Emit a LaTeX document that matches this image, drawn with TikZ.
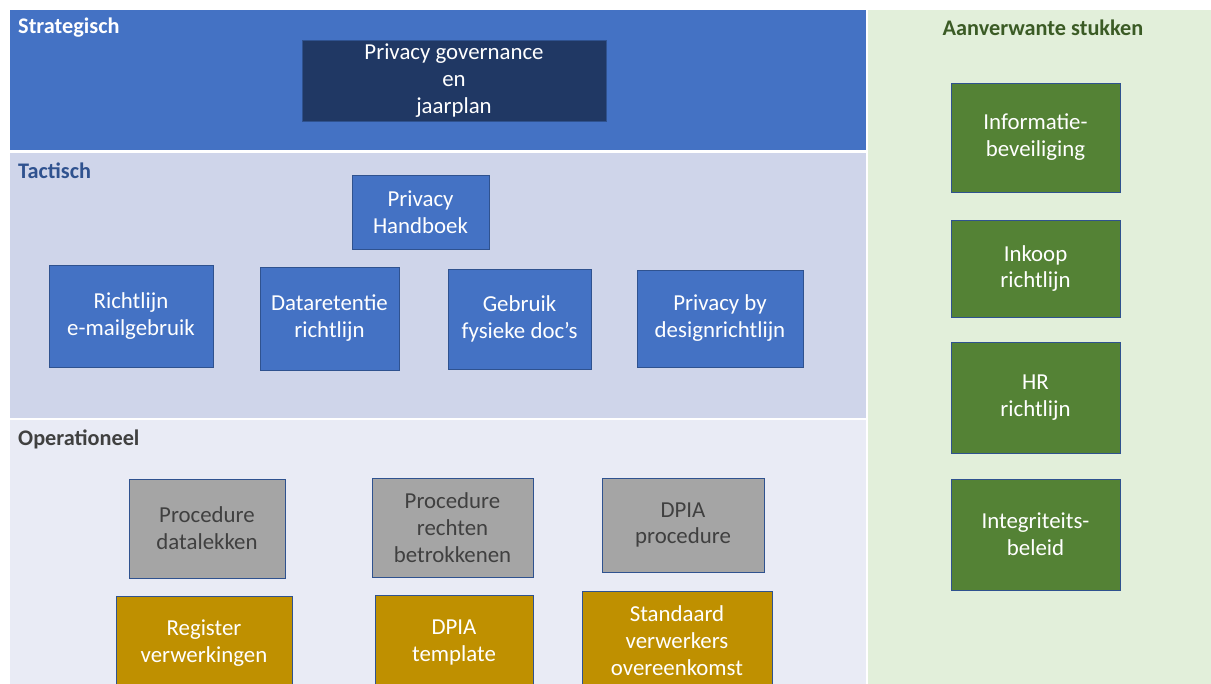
\documentclass[tikz,border=0pt]{standalone}
\usepackage{fontspec}
\setmainfont{Carlito}
\usepackage{xcolor}
\usetikzlibrary{positioning}
\definecolor{stratband}{HTML}{4472C4}
\definecolor{tactband}{HTML}{CFD5EA}
\definecolor{operband}{HTML}{E9EBF5}
\definecolor{relband}{HTML}{E2EFDA}
\definecolor{govfill}{HTML}{203864}
\definecolor{edgeblue}{HTML}{2F528F}
\definecolor{procgray}{HTML}{A5A5A5}
\definecolor{tmplgold}{HTML}{BF9000}
\definecolor{relgreen}{HTML}{548235}
\tikzset{
  lvl/.style={
    anchor=west,
    inner sep=0pt,
    font=\fontsize{19}{22}\selectfont\bfseries
  },
  doc/.style={
    draw=edgeblue,
    line width=0.8pt,
    align=center,
    inner sep=2pt,
    font=\fontsize{19.5}{23}\selectfont,
    text=white
  },
  strat/.style={doc, fill=govfill},
  tact/.style={doc, fill=stratband},
  proc/.style={doc, fill=procgray, text=black!75},
  tmpl/.style={doc, fill=tmplgold},
  rel/.style={doc, fill=relgreen, minimum width=5.07cm}
}

\begin{document}
\begin{tikzpicture}[x=0.03cm, y=-0.03cm]
  \useasboundingbox (0,0) rectangle (1211,684);
  \clip (0,0) rectangle (1211,684);

  % bands
  \fill[stratband] (10,10) rectangle (866,150);
  \fill[tactband] (10,153) rectangle (866,418);
  \fill[operband] (10,420) rectangle (866,684);
  \fill[relband] (868,10) rectangle (1211,684);

  \node[lvl, text=white] (strategisch) at (18,28) {Strategisch};
  \node[lvl, text=edgeblue] (tactisch) at (18,171) {Tactisch};
  \node[lvl, text=black!75] (operationeel) at (18,439) {Operationeel};
  \node[lvl, anchor=center, text=relgreen!70!black] (aanverwant) at (1043,28) {Aanverwante stukken};

  % strategisch
  \node[strat, minimum width=9.12cm, minimum height=2.43cm] (governance) at (454,80.5) {Privacy governance\\en\\jaarplan};

  % tactisch
  \node[tact, minimum width=4.11cm, minimum height=2.22cm] (handboek) at (420.5,212) {Privacy\\Handboek};
  \node[tact, minimum width=4.92cm, minimum height=3.06cm] (email) at (131,316) {Richtlijn\\e-mailgebruik};
  \node[tact, minimum width=4.17cm, minimum height=3.09cm] (retentie) at (329.5,318.5) {Dataretentie\\richtlijn};
  \node[tact, minimum width=4.29cm, minimum height=3.0cm] (fysiek) at (519.5,319) {Gebruik\\fysieke doc’s};
  \node[tact, minimum width=4.98cm, minimum height=2.91cm] (bydesign) at (720,318.5) {Privacy by\\designrichtlijn};

  % operationeel
  \node[proc, minimum width=4.68cm, minimum height=2.97cm] (datalek) at (207,528.5) {Procedure\\datalekken};
  \node[proc, minimum width=4.83cm, minimum height=2.97cm] (rechten) at (452.5,527.5) {Procedure\\rechten\\betrokkenen};
  \node[proc, minimum width=4.86cm, minimum height=2.82cm] (dpiaproc) at (683,525) {DPIA\\procedure};
  \node[tmpl, minimum width=5.28cm, minimum height=2.82cm] (register) at (204,643) {Register\\verwerkingen};
  \node[tmpl, minimum width=4.74cm, minimum height=2.85cm] (dpiatmpl) at (454,642.5) {DPIA\\template};
  \node[tmpl, minimum width=5.7cm, minimum height=3.0cm] (verwerker) at (677,641) {Standaard\\verwerkers\\overeenkomst};

  % aanverwante stukken
  \node[rel, minimum height=3.27cm] (infobev) at (1035.5,137.5) {Informatie-\\beveiliging};
  \node[rel, minimum height=2.91cm] (inkoop) at (1035.5,268.5) {Inkoop\\richtlijn};
  \node[rel, minimum height=3.33cm] (hr) at (1035.5,397.5) {HR\\richtlijn};
  \node[rel, minimum height=3.33cm] (integriteit) at (1035.5,534.5) {Integriteits-\\beleid};
\end{tikzpicture}
\end{document}
